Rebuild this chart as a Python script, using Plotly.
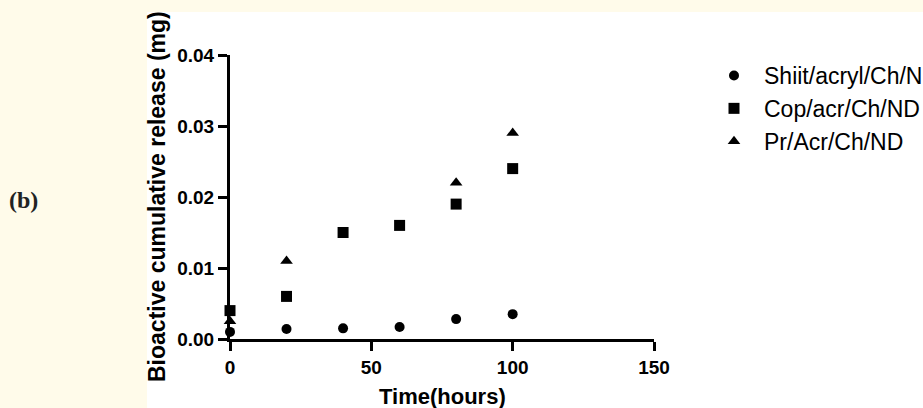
import plotly.graph_objects as go

# ---- data ----
time_h = [0, 20, 40, 60, 80, 100]
series_names = ["Shiit/acryl/Ch/N", "Cop/acr/Ch/ND", "Pr/Acr/Ch/ND"]
shiit = [0.001, 0.0014, 0.0015, 0.0017, 0.0028, 0.0035]
cop = [0.004, 0.006, 0.015, 0.016, 0.019, 0.024]
pr_time = [0, 20, 80, 100]
pr = [0.0025, 0.011, 0.022, 0.029]

x_ticks = [0, 50, 100, 150]
y_ticks = [0.00, 0.01, 0.02, 0.03, 0.04]

W, H = 923, 408
L, R, T, B = 230, 269, 55, 69
pw, ph = W - L - R, H - T - B

def px_x(p):
    return (p - L) / pw

def px_y(p):
    return (H - B - p) / ph

fig = go.Figure()
fig.add_trace(go.Scatter(x=time_h, y=shiit, mode="markers", name=series_names[0],
                         legendgroup="a", cliponaxis=False,
                         marker=dict(symbol="circle", size=10, color="black")))
fig.add_trace(go.Scatter(x=time_h, y=cop, mode="markers", name=series_names[1],
                         legendgroup="b", cliponaxis=False,
                         marker=dict(symbol="square", size=11, color="black")))
fig.add_trace(go.Scatter(x=pr_time, y=pr, mode="markers", name=series_names[2],
                         legendgroup="c", cliponaxis=False,
                         marker=dict(symbol="triangle-up", size=11, color="black")))

axis_common = dict(showline=True, linecolor="black", linewidth=3, ticks="outside",
                   ticklen=9, tickwidth=3, tickcolor="black", showgrid=False,
                   zeroline=False, layer="below traces",
                   tickfont=dict(family="Arial, Liberation Sans", size=19, color="black", weight="bold"))

fig.update_xaxes(range=[0, 150], tickvals=x_ticks, **axis_common)
fig.update_yaxes(range=[0, 0.04], tickvals=y_ticks, tickformat=".2f", **axis_common)

fig.update_layout(
    width=W, height=H,
    margin=dict(l=L, r=R, t=T, b=B, autoexpand=False),
    paper_bgcolor="#fffbea",
    plot_bgcolor="white",
    showlegend=True,
    legend=dict(x=px_x(704), y=px_y(54), xanchor="left", yanchor="top",
                bgcolor="rgba(0,0,0,0)", tracegroupgap=0, traceorder="grouped",
                itemwidth=50,
                font=dict(family="Arial, Liberation Sans", size=23, color="black")),
    shapes=[dict(type="rect", xref="paper", yref="paper",
                 x0=px_x(147), x1=px_x(W + 5), y0=px_y(H + 5), y1=px_y(12),
                 fillcolor="white", line=dict(width=0), layer="below")],
    annotations=[
        dict(text="<b>Time(hours)</b>", xref="paper", yref="paper", x=0.5, y=px_y(396),
             xanchor="center", yanchor="middle", showarrow=False,
             font=dict(family="Arial, Liberation Sans", size=22, color="black")),
        dict(text="<b>Bioactive cumulative release (mg)</b>", xref="paper", yref="paper",
             x=px_x(157), y=px_y(197), textangle=-90, xanchor="center", yanchor="middle",
             showarrow=False,
             font=dict(family="Arial, Liberation Sans", size=23, color="black")),
        dict(text="<b>(b)</b>", xref="paper", yref="paper", x=px_x(7), y=px_y(200),
             xanchor="left", yanchor="middle", showarrow=False,
             font=dict(family="Liberation Serif", size=24, color="#222222")),
    ],
)

fig.write_html("out.html")
